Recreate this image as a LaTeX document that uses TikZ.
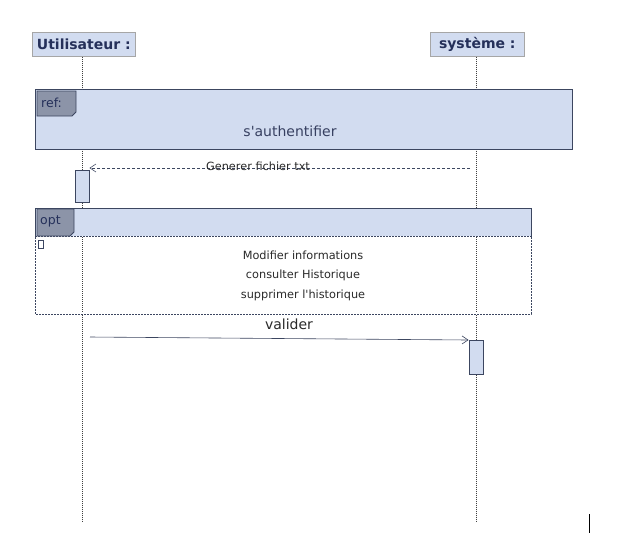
\documentclass[tikz,border=0pt]{standalone}
\usepackage{fontspec}
\setmainfont{DejaVu Sans}[Ligatures=TeXOff]
\usetikzlibrary{arrows.meta}
\definecolor{boxfill}{HTML}{D2DCF0}
\definecolor{boxline}{HTML}{3C4660}
\definecolor{tabfill}{HTML}{8C94A8}
\definecolor{headtext}{HTML}{25305A}
\definecolor{msgtext}{HTML}{2A2A2A}
\tikzset{
  x=1pt, y=-1pt,
  actor/.style={draw=gray!70, fill=boxfill, line width=0.6pt, font=\bfseries\fontsize{14}{15}\selectfont,
    text=headtext, inner sep=0pt, anchor=north west},
  lifeline/.style={draw=black!75, dash pattern=on 1pt off 1pt, line width=0.6pt},
  activation/.style={draw=boxline, fill=boxfill, line width=0.8pt},
  frame/.style={draw=boxline, line width=0.9pt},
  tabbox/.style={draw=boxline, fill=tabfill, line width=0.8pt},
  msg/.style={draw=boxline, line width=0.6pt, -{Straight Barb[length=6pt,width=8pt]}},
  small/.style={font=\fontsize{11.3}{13}\selectfont, text=msgtext, inner sep=1pt},
  tablabel/.style={font=\fontsize{12.5}{14}\selectfont, text=headtext, anchor=west, inner sep=0pt},
}
\begin{document}
\begin{tikzpicture}
\useasboundingbox (0,0) rectangle (626,558);
\fill[white] (0,0) rectangle (626,558);

% actor heads
\node[actor, minimum width=103pt, minimum height=24pt] (user) at (32,32) {Utilisateur :};
\node[actor, minimum width=94pt, minimum height=24pt] (sys) at (430,32) {système :};

% lifelines
\coordinate (uend) at (82,522);
\coordinate (send) at (476,522);
\draw[lifeline] (user.south -| uend) -- (uend);
\draw[lifeline] (sys.south -| send) -- (send);

% ref fragment
\node[frame, fill=boxfill, minimum width=537pt, minimum height=60pt, anchor=north west, inner sep=0pt] (ref) at (35,89) {};
\draw[tabbox] (37,91) -- (76,91) -- (76,112) -- (72,116) -- (37,116) -- cycle;
\node[tablabel] (reflbl) at (41,103) {ref:};
\node[font=\fontsize{14}{16}\selectfont, text=headtext!80!gray, inner sep=0pt] (auth) at (290,131) {s'authentifier};

% Generer fichier txt
\node[activation, minimum width=14pt, minimum height=32pt, anchor=north, inner sep=0pt] (act1) at (82,170) {};
\coordinate (gstart) at (470,168);
\draw[msg, densely dashed] (gstart) -- (act1.north east |- gstart);
\node[small, anchor=south] (glbl) at (258,172) {Generer fichier txt};

% opt fragment
\node[frame, fill=white, minimum width=496pt, minimum height=106pt, anchor=north west, inner sep=0pt] (opt) at (35,208) {};
\fill[boxfill] (35.5,208.5) rectangle (530.5,236);
\draw[boxline, dash pattern=on 2pt off 1pt, line width=0.9pt] (35,236) -- (531,236);
\draw[boxline, line width=0.9pt] (opt.north west) -- (opt.north east);
\draw[boxline, line width=0.9pt] (35,208) -- (35,236);
\draw[boxline, line width=0.9pt] (531,208) -- (531,236);
\draw[white, line width=1pt] (35,237) -- (35,314) -- (531,314) -- (531,237);
\draw[boxline, dash pattern=on 2pt off 1pt, line width=0.9pt] (35,237) -- (35,314) -- (531,314) -- (531,237);
\draw[tabbox] (37,209) -- (74,209) -- (74,232) -- (70,236) -- (37,236) -- cycle;
\node[tablabel] (optlbl) at (40,221) {opt};
\draw[boxline, line width=0.6pt] (38.5,240) rectangle (43.5,248);
\draw[lifeline] (82,237) -- (82,313);
\draw[lifeline] (476,237) -- (476,313);
\node[small] (t1) at (303,255) {Modifier informations};
\node[small] (t2) at (303,275) {consulter Historique};
\node[small] (t3) at (303,295) {supprimer l'historique};

% valider
\node[activation, minimum width=14pt, minimum height=34pt, anchor=north, inner sep=0pt] (act2) at (476,340) {};
\coordinate (vstart) at (90,337);
\draw[msg] (vstart) -- (act2.north west);
\node[font=\fontsize{14}{16}\selectfont, text=msgtext, inner sep=0pt] (vlbl) at (289,324) {valider};

% stray mark
\draw[black, line width=0.8pt] (589,514) -- (589,533);
\end{tikzpicture}
\end{document}
